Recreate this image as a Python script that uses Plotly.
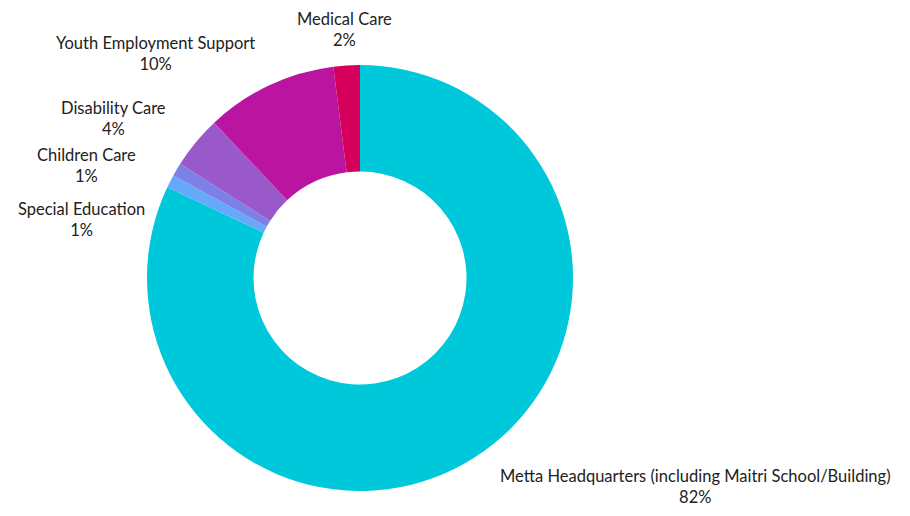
import plotly.graph_objects as go

labels = ["Metta Headquarters (including Maitri School/Building)", "Special Education",
          "Children Care", "Disability Care", "Youth Employment Support", "Medical Care"]
values = [82, 1, 1, 4, 10, 2]
colors = ["#00C8DB", "#66A8FA", "#7D80E6", "#9A59CB", "#BA14A0", "#D5005B"]

W, H = 910, 516
OFF = 8  # page body margin
cx, cy, r = 360 - OFF, 278 - OFF, 213

# label box centres (pixels, layout only)
label_pos = [(695, 486), (81, 219), (86, 165), (113, 119), (155, 53), (344, 30)]

fig = go.Figure(go.Pie(
    labels=labels, values=values,
    hole=0.5, sort=False, direction="clockwise", rotation=0,
    marker=dict(colors=colors, line=dict(width=0)),
    textinfo="none", hoverinfo="label+percent",
    showlegend=False,
    domain=dict(x=[(cx - r) / W, (cx + r) / W], y=[(H - cy - r) / H, (H - cy + r) / H]),
))

total = sum(values)
for lab, v, (px, py) in zip(labels, values, label_pos):
    fig.add_annotation(
        x=(px - OFF) / W, y=1 - (py - OFF) / H, xref="paper", yref="paper",
        xanchor="center", yanchor="middle", showarrow=False, align="center",
        text=f"{lab}<br>{v / total * 100:.0f}%",
        font=dict(family="Lato, sans-serif", size=16.5, color="#222222"),
    )

fig.update_layout(
    width=W, height=H, margin=dict(l=0, r=0, t=0, b=0),
    paper_bgcolor="white", plot_bgcolor="white",
)
fig.write_html("out.html")
